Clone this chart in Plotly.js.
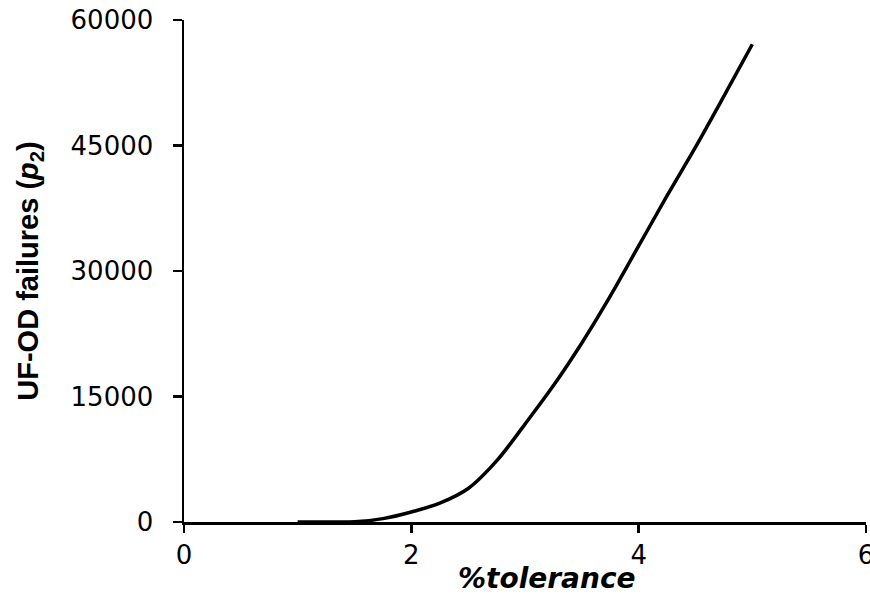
<!DOCTYPE html>
<html>
<head>
<meta charset="utf-8">
<script src="https://cdn.plot.ly/plotly-3.0.1.min.js"></script>
<style>
  html, body { margin: 0; padding: 0; background: #ffffff; }
  #chart { width: 870px; height: 597px; }
</style>
</head>
<body>
<div id="chart"></div>
<script>
// Failures as a function of the tolerance percentage
const tolerance = [1, 1.25, 1.5, 1.75, 2, 2.25, 2.5, 2.75, 3, 3.25, 3.5, 3.75, 4, 4.25, 4.5, 4.75, 5];
const failures = [0, 0, 20, 400, 1200, 2250, 4000, 7300, 11700, 16300, 21400, 27000, 33000, 39000, 44800, 50900, 57100];

const xTicks = [0, 2, 4, 6];
const yTicks = [0, 15000, 30000, 45000, 60000];

const trace = {
  x: tolerance,
  y: failures,
  type: 'scatter',
  mode: 'lines',
  line: { color: '#000000', width: 3.5, shape: 'spline', smoothing: 1 },
  hoverinfo: 'skip',
  cliponaxis: false
};

const tickFont = { family: 'DejaVu Sans, sans-serif', size: 26, color: '#000000' };

const layout = {
  width: 870,
  height: 597,
  margin: { l: 184, r: 4, t: 20, b: 75 },
  paper_bgcolor: '#ffffff',
  plot_bgcolor: '#ffffff',
  showlegend: false,
  xaxis: {
    range: [0, 6],
    tickvals: xTicks,
    ticktext: xTicks.map(String),
    ticks: 'outside',
    ticklen: 8,
    tickwidth: 2.5,
    tickcolor: '#000000',
    ticklabelstandoff: 0,
    ticklabeloverflow: 'allow',
    showline: true,
    linecolor: '#000000',
    linewidth: 2.5,
    showgrid: false,
    zeroline: false,
    tickfont: tickFont,
    automargin: false
  },
  yaxis: {
    range: [0, 60000],
    tickvals: yTicks,
    tickformat: 'd',
    ticks: 'outside',
    ticklen: 9,
    tickwidth: 2.5,
    tickcolor: '#000000',
    ticklabelstandoff: 14,
    ticklabeloverflow: 'allow',
    showline: true,
    linecolor: '#000000',
    linewidth: 2.5,
    showgrid: false,
    zeroline: false,
    tickfont: tickFont,
    automargin: false,
    title: {
      text: '<b>UF-OD failures (<i>p</i><sub>2</sub>)</b>',
      font: { family: 'Liberation Sans, Arial, sans-serif', size: 29, color: '#000000' },
      standoff: 24
    }
  },
  annotations: [
    {
      text: '<b><i>%tolerance</i></b>',
      xref: 'paper', yref: 'paper',
      x: 0.532, y: -0.113,
      xanchor: 'center', yanchor: 'middle',
      showarrow: false,
      font: { family: 'DejaVu Sans, sans-serif', size: 28, color: '#000000' }
    }
  ]
};

Plotly.newPlot('chart', [trace], layout, { staticPlot: true, displayModeBar: false });
</script>
</body>
</html>
